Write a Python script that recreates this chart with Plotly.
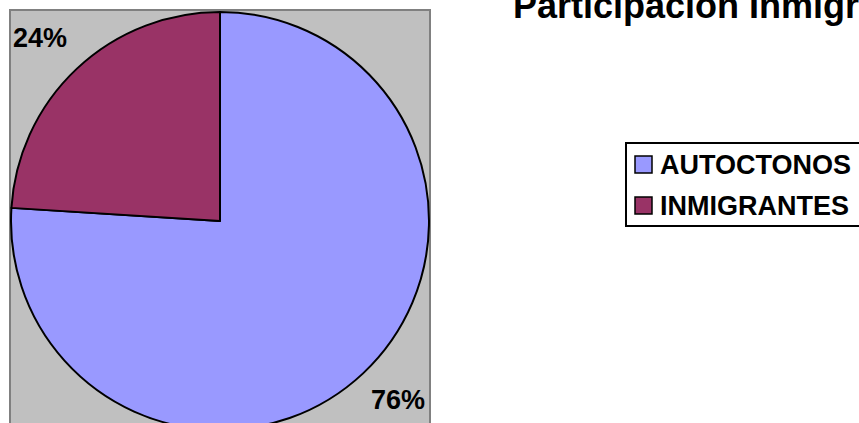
import plotly.graph_objects as go

# ---- data ----
categories = ["AUTOCTONOS", "INMIGRANTES"]
values = [76, 24]
colors = ["#9999FF", "#993366"]
title_text = "Participación Inmigrantes"

# figure is slightly taller than the window so the pie can run off the bottom edge
W, H = 859, 430

def px(x):
    return x / W

def py(y):
    return 1 - y / H

fig = go.Figure()
fig.add_trace(go.Pie(
    labels=categories,
    values=values,
    marker=dict(colors=colors, line=dict(color="black", width=2)),
    sort=False,
    direction="clockwise",
    rotation=0,
    textinfo="none",
    hoverinfo="label+percent",
    showlegend=False,
    domain=dict(x=[px(11), px(429)], y=[0, py(12)]),
))

shapes = []
# gray plot area
shapes.append(dict(type="rect", xref="paper", yref="paper",
                   x0=px(10), x1=px(430), y0=py(450), y1=py(10),
                   fillcolor="#C0C0C0", line=dict(color="#808080", width=2),
                   layer="below"))
# legend box
shapes.append(dict(type="rect", xref="paper", yref="paper",
                   x0=px(626), x1=px(880), y0=py(226), y1=py(143),
                   fillcolor="white", line=dict(color="black", width=2),
                   layer="below"))

annotations = []
total = sum(values)
legend_rows = [164, 205]
for cat, col, yc in zip(categories, colors, legend_rows):
    shapes.append(dict(type="rect", xref="paper", yref="paper",
                       x0=px(635), x1=px(652), y0=py(yc + 9), y1=py(yc - 8),
                       fillcolor=col, line=dict(color="black", width=1.5)))
    annotations.append(dict(text=f"<b>{cat}</b>", xref="paper", yref="paper",
                            x=px(658), y=py(yc + 1), xanchor="left", yanchor="middle",
                            showarrow=False,
                            font=dict(family="Arial", size=27, color="black")))

# percentage labels
label_pos = [(398, 400), (40, 38)]
for v, (lx, ly) in zip(values, label_pos):
    annotations.append(dict(text=f"<b>{round(100 * v / total)}%</b>", xref="paper", yref="paper",
                            x=px(lx), y=py(ly), xanchor="center", yanchor="middle",
                            showarrow=False,
                            font=dict(family="Arial", size=27, color="black")))

# title (cut off at the top and right edges as in the reference)
annotations.append(dict(text=f"<b>{title_text}</b>", xref="paper", yref="paper",
                        x=px(511), y=py(6), xanchor="left", yanchor="middle",
                        showarrow=False,
                        font=dict(family="Arial", size=36, color="black")))

fig.update_layout(
    width=W, height=H,
    margin=dict(l=0, r=0, t=0, b=0),
    paper_bgcolor="white",
    plot_bgcolor="white",
    shapes=shapes,
    annotations=annotations,
    showlegend=False,
)

fig.write_html(
    "out.html",
    config={"displayModeBar": False},
    post_script="document.body.style.margin='0';document.body.style.overflow='hidden';",
)
